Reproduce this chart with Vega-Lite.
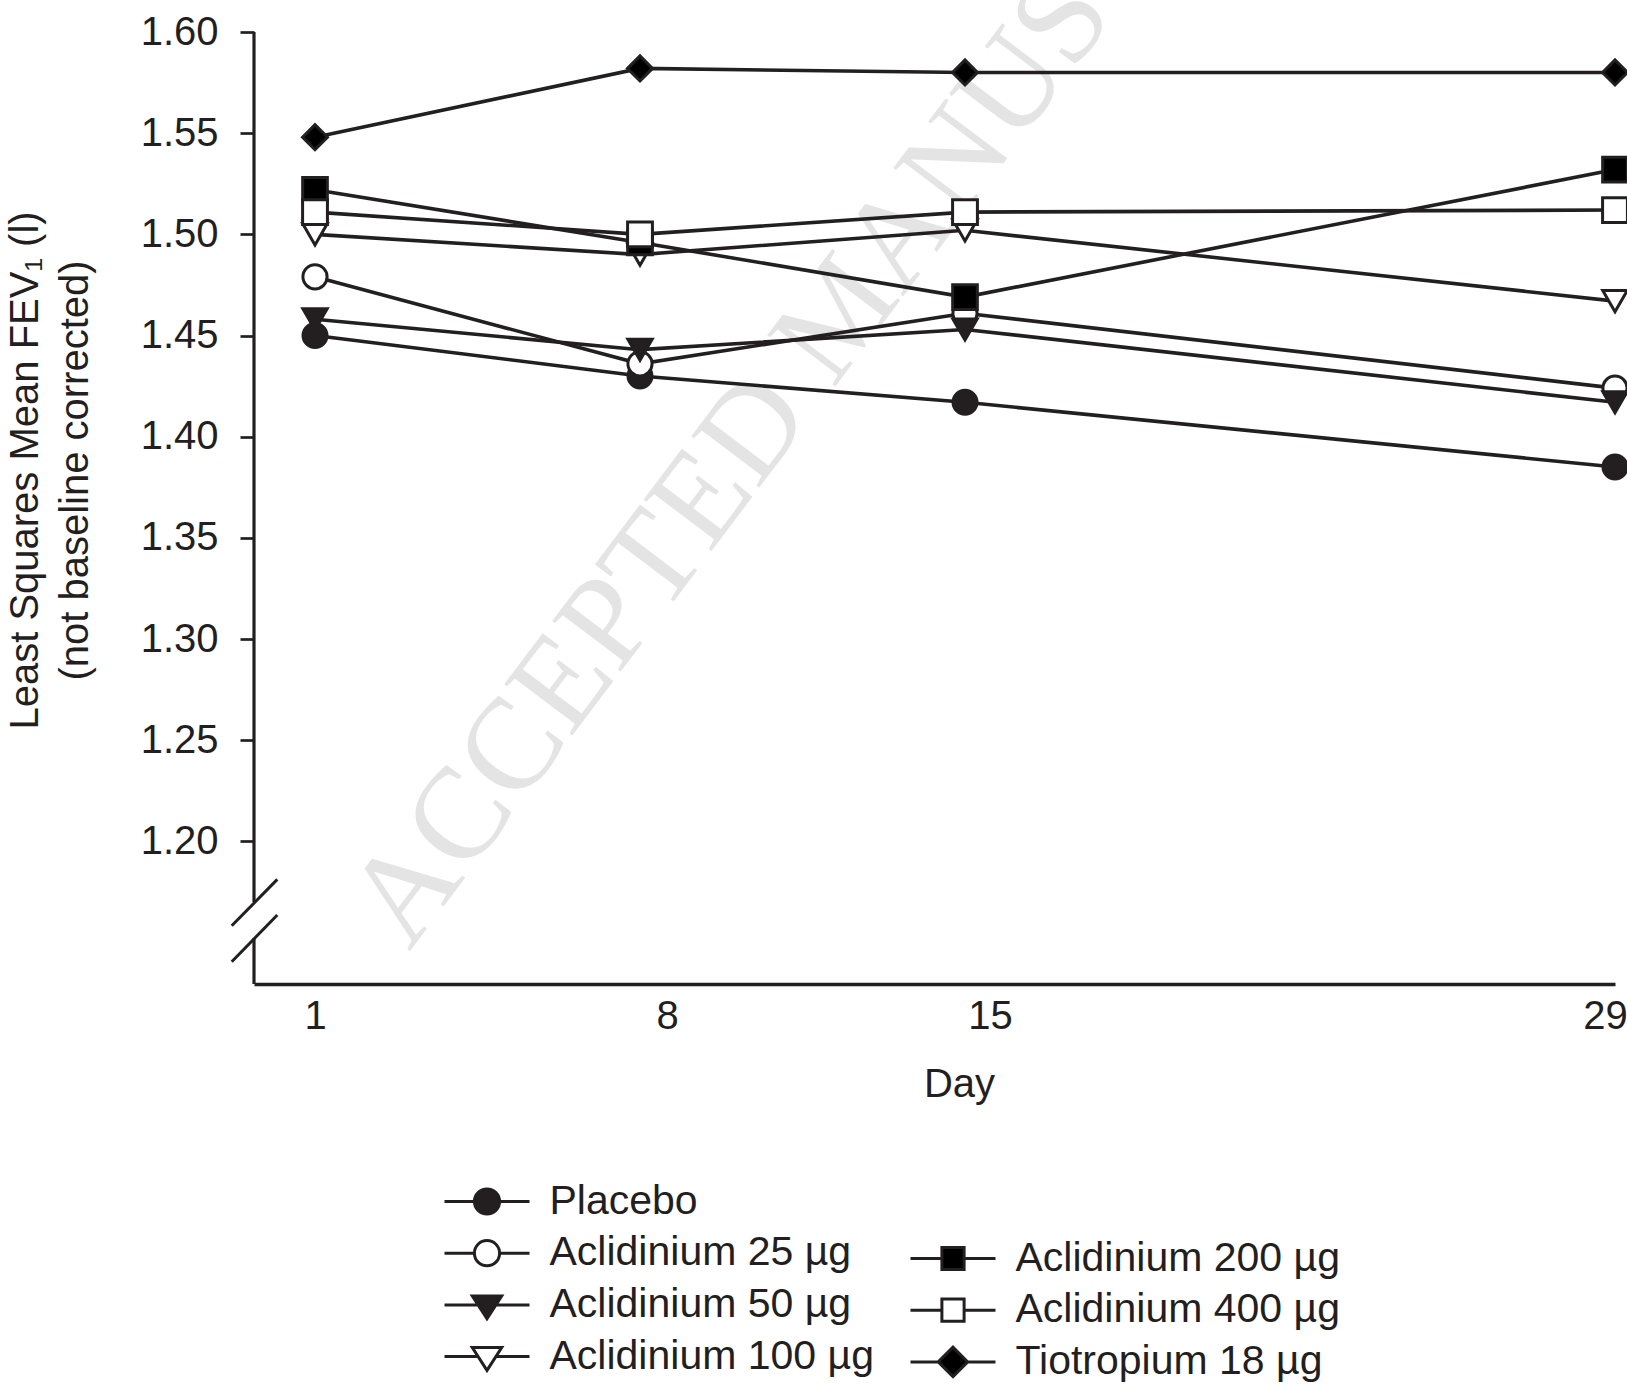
{
  "$schema": "https://vega.github.io/schema/vega-lite/v6.json",
  "width": 1361,
  "height": 952,
  "autosize": {"type": "none"},
  "padding": {"left": 254, "top": 32, "right": 12, "bottom": 402},
  "background": "white",
  "config": {"view": {"stroke": null}, "font": "Liberation Sans"},
  "data": {
    "values": [
      {"series": "Placebo", "day": 1, "fev": 1.450},
      {"series": "Placebo", "day": 8, "fev": 1.430},
      {"series": "Placebo", "day": 15, "fev": 1.417},
      {"series": "Placebo", "day": 29, "fev": 1.385},
      {"series": "Aclidinium 25 µg", "day": 1, "fev": 1.479},
      {"series": "Aclidinium 25 µg", "day": 8, "fev": 1.436},
      {"series": "Aclidinium 25 µg", "day": 15, "fev": 1.461},
      {"series": "Aclidinium 25 µg", "day": 29, "fev": 1.424},
      {"series": "Aclidinium 50 µg", "day": 1, "fev": 1.458},
      {"series": "Aclidinium 50 µg", "day": 8, "fev": 1.443},
      {"series": "Aclidinium 50 µg", "day": 15, "fev": 1.453},
      {"series": "Aclidinium 50 µg", "day": 29, "fev": 1.417},
      {"series": "Aclidinium 100 µg", "day": 1, "fev": 1.500},
      {"series": "Aclidinium 100 µg", "day": 8, "fev": 1.490},
      {"series": "Aclidinium 100 µg", "day": 15, "fev": 1.502},
      {"series": "Aclidinium 100 µg", "day": 29, "fev": 1.467},
      {"series": "Aclidinium 200 µg", "day": 1, "fev": 1.522},
      {"series": "Aclidinium 200 µg", "day": 8, "fev": 1.496},
      {"series": "Aclidinium 200 µg", "day": 15, "fev": 1.469},
      {"series": "Aclidinium 200 µg", "day": 29, "fev": 1.532},
      {"series": "Aclidinium 400 µg", "day": 1, "fev": 1.511},
      {"series": "Aclidinium 400 µg", "day": 8, "fev": 1.500},
      {"series": "Aclidinium 400 µg", "day": 15, "fev": 1.511},
      {"series": "Aclidinium 400 µg", "day": 29, "fev": 1.512},
      {"series": "Tiotropium 18 µg", "day": 1, "fev": 1.548},
      {"series": "Tiotropium 18 µg", "day": 8, "fev": 1.582},
      {"series": "Tiotropium 18 µg", "day": 15, "fev": 1.580},
      {"series": "Tiotropium 18 µg", "day": 29, "fev": 1.580}
    ]
  },
  "layer": [
    {
      "data": {"values": [{}]},
      "mark": {"type": "text", "text": "ACCEPTED MANUSCRIPT", "font": "Liberation Serif", "fontSize": 130, "angle": -53, "align": "left", "baseline": "alphabetic", "color": "#e4e4e4"},
      "encoding": {
        "x": {"datum": 3.03, "type": "quantitative", "scale": {"domain": [-0.314, 29], "nice": false, "zero": false}},
        "y": {"datum": 1.1453, "type": "quantitative", "scale": {"domain": [1.1295, 1.6], "nice": false, "zero": false}}
      }
    },
    {
      "data": {"values": [{}]},
      "mark": {"type": "rule", "stroke": "#231f20", "strokeWidth": 3.2},
      "encoding": {
        "x": {"datum": -0.314, "type": "quantitative"},
        "y": {"datum": 1.6, "type": "quantitative"},
        "y2": {"datum": 1.170}
      }
    },
    {
      "data": {"values": [{}]},
      "mark": {"type": "rule", "stroke": "#231f20", "strokeWidth": 3.2},
      "encoding": {
        "x": {"datum": -0.314, "type": "quantitative"},
        "y": {"datum": 1.1522, "type": "quantitative"},
        "y2": {"datum": 1.1295}
      }
    },
    {
      "data": {"values": [{}]},
      "mark": {"type": "rule", "stroke": "#231f20", "strokeWidth": 3},
      "encoding": {
        "x": {"datum": -0.794, "type": "quantitative"},
        "x2": {"datum": 0.188},
        "y": {"datum": 1.1583, "type": "quantitative"},
        "y2": {"datum": 1.1812}
      }
    },
    {
      "data": {"values": [{}]},
      "mark": {"type": "rule", "stroke": "#231f20", "strokeWidth": 3},
      "encoding": {
        "x": {"datum": -0.794, "type": "quantitative"},
        "x2": {"datum": 0.188},
        "y": {"datum": 1.1405, "type": "quantitative"},
        "y2": {"datum": 1.1636}
      }
    },
    {
      "mark": {"type": "line", "stroke": "#231f20", "strokeWidth": 3.6},
      "encoding": {
        "x": {
          "field": "day", "type": "quantitative",
          "scale": {"domain": [-0.314, 29], "nice": false, "zero": false},
          "axis": {
            "values": [1, 8, 15, 29], "ticks": false, "tickSize": 0, "grid": false,
            "domain": true, "domainColor": "#231f20", "domainWidth": 3.5,
            "labelFont": "Liberation Sans", "labelFontSize": 40, "labelColor": "#231f20",
            "labelBaseline": "alphabetic", "labelPadding": 44, "labelAlign": "center",
            "labelFlush": false, "labelOverlap": false,
            "labelOffset": {"condition": [{"test": "datum.value == 8", "value": 27}, {"test": "datum.value == 15", "value": 25}, {"test": "datum.value == 29", "value": -10}], "value": 0},
            "title": "Day", "titleFont": "Liberation Sans", "titleFontSize": 40, "titleFontWeight": "normal",
            "titleColor": "#231f20", "titleX": 705, "titleY": 112, "titleBaseline": "alphabetic", "titleAlign": "center"
          }
        },
        "y": {
          "field": "fev", "type": "quantitative",
          "scale": {"domain": [1.1295, 1.6], "nice": false, "zero": false},
          "axis": {
            "values": [1.2, 1.25, 1.3, 1.35, 1.4, 1.45, 1.5, 1.55, 1.6], "format": ".2f",
            "grid": false, "domain": false, "ticks": true, "tickSize": 14, "tickWidth": 2.7, "tickColor": "#231f20",
            "labelFont": "Liberation Sans", "labelFontSize": 40, "labelColor": "#231f20", "labelPadding": 22,
            "labelFlush": false, "labelOverlap": false, "labelBaseline": "middle",
            "title": ["Least Squares Mean FEV₁ (l)", "(not baseline corrected)"],
            "titleFont": "Liberation Sans", "titleFontSize": 40, "titleFontWeight": "normal", "titleColor": "#231f20",
            "titleAngle": -90, "titleAlign": "center", "titleBaseline": "alphabetic",
            "titleX": -216.5, "titleY": 438, "titleLineHeight": 50
          }
        },
        "detail": {"field": "series"}
      }
    },
    {
      "mark": {"type": "point", "filled": true, "stroke": "#231f20", "strokeWidth": 3, "opacity": 1, "strokeOpacity": 1},
      "encoding": {
        "x": {"field": "day", "type": "quantitative"},
        "y": {"field": "fev", "type": "quantitative"},
        "fill": {"field": "series", "type": "nominal", "legend": null,
          "scale": {"domain": ["Placebo", "Aclidinium 25 µg", "Aclidinium 50 µg", "Aclidinium 100 µg", "Aclidinium 200 µg", "Aclidinium 400 µg", "Tiotropium 18 µg"],
                    "range": ["#231f20", "white", "#231f20", "white", "black", "white", "black"]}},
        "size": {"field": "series", "type": "nominal", "legend": null,
          "scale": {"domain": ["Placebo", "Aclidinium 25 µg", "Aclidinium 50 µg", "Aclidinium 100 µg", "Aclidinium 200 µg", "Aclidinium 400 µg", "Tiotropium 18 µg"],
                    "range": [576, 625, 841, 841, 441, 441, 1024]}},
        "shape": {"field": "series", "type": "nominal", "legend": null,
          "scale": {"domain": ["Placebo", "Aclidinium 25 µg", "Aclidinium 50 µg", "Aclidinium 100 µg", "Aclidinium 200 µg", "Aclidinium 400 µg", "Tiotropium 18 µg"],
                    "range": ["circle", "circle", "triangle-down", "triangle-down", "square", "square", "diamond"]}}
      }
    },
    {
      "transform": [{"filter": {"field": "series", "oneOf": ["Placebo", "Aclidinium 25 µg", "Aclidinium 50 µg", "Aclidinium 100 µg"]}}],
      "mark": {"type": "point", "filled": false, "color": "#231f20", "strokeWidth": 3, "opacity": 0},
      "encoding": {
        "x": {"field": "day", "type": "quantitative"},
        "y": {"field": "fev", "type": "quantitative"},
        "shape": {"field": "series", "type": "nominal",
          "scale": {"domain": ["Placebo", "Aclidinium 25 µg", "Aclidinium 50 µg", "Aclidinium 100 µg"],
                    "range": ["M-2.833,0H-0.84M0.84,0H2.833M-0.84,0A0.84,0.84,0,1,0,0.84,0A0.84,0.84,0,1,0,-0.84,0Z", "M-2.833,0H-0.84M0.84,0H2.833M-0.84,0A0.84,0.84,0,1,0,0.84,0A0.84,0.84,0,1,0,-0.84,0Z", "M-2.833,0H-0.6M0.6,0H2.833M-0.98,-0.6H0.98L0,0.92Z", "M-2.833,0H-0.6M0.6,0H2.833M-0.98,-0.6H0.98L0,0.92Z"]},
          "legend": {
            "orient": "none", "legendX": 212.5, "legendY": 1149, "title": null, "direction": "vertical",
            "labelFont": "Liberation Sans", "labelFontSize": 41, "labelColor": "#231f20", "labelLimit": 600,
            "labelOffset": 42, "rowPadding": 9.7, "symbolSize": 900, "symbolStrokeWidth": 3, "symbolStrokeColor": "#231f20", "symbolOpacity": 1
          }
        },
        "fill": {"field": "series", "type": "nominal",
          "scale": {"domain": ["Placebo", "Aclidinium 25 µg", "Aclidinium 50 µg", "Aclidinium 100 µg"], "range": ["#231f20", "white", "#231f20", "white"]},
          "legend": {
            "orient": "none", "legendX": 212.5, "legendY": 1149, "title": null, "direction": "vertical",
            "labelFont": "Liberation Sans", "labelFontSize": 41, "labelColor": "#231f20", "labelLimit": 600,
            "labelOffset": 42, "rowPadding": 9.7, "symbolSize": 900, "symbolStrokeWidth": 3, "symbolStrokeColor": "#231f20", "symbolOpacity": 1
          }
        },
        "stroke": {"field": "series", "type": "nominal",
          "scale": {"domain": ["Placebo", "Aclidinium 25 µg", "Aclidinium 50 µg", "Aclidinium 100 µg"], "range": ["#231f20", "#231f20", "#231f20", "#231f20"]},
          "legend": {
            "orient": "none", "legendX": 212.5, "legendY": 1149, "title": null, "direction": "vertical",
            "labelFont": "Liberation Sans", "labelFontSize": 41, "labelColor": "#231f20", "labelLimit": 600,
            "labelOffset": 42, "rowPadding": 9.7, "symbolSize": 900, "symbolStrokeWidth": 3, "symbolStrokeColor": "#231f20", "symbolOpacity": 1
          }
        }
      }
    },
    {
      "transform": [{"filter": {"field": "series", "oneOf": ["Aclidinium 200 µg", "Aclidinium 400 µg", "Tiotropium 18 µg"]}}],
      "mark": {"type": "point", "filled": false, "color": "#231f20", "strokeWidth": 3, "opacity": 0},
      "encoding": {
        "x": {"field": "day", "type": "quantitative"},
        "y": {"field": "fev", "type": "quantitative"},
        "shape": {"field": "series", "type": "nominal",
          "scale": {"domain": ["Aclidinium 200 µg", "Aclidinium 400 µg", "Tiotropium 18 µg"],
                    "range": ["M-2.833,0H-0.74M0.74,0H2.833M-0.74,-0.74H0.74V0.74H-0.74Z", "M-2.833,0H-0.74M0.74,0H2.833M-0.74,-0.74H0.74V0.74H-0.74Z", "M-2.833,0H-0.98M0.98,0H2.833M-0.98,0L0,-0.98L0.98,0L0,0.98Z"]},
          "legend": {
            "orient": "none", "legendX": 678.5, "legendY": 1206, "title": null, "direction": "vertical",
            "labelFont": "Liberation Sans", "labelFontSize": 41, "labelColor": "#231f20", "labelLimit": 600,
            "labelOffset": 42, "rowPadding": 9.7, "symbolSize": 900, "symbolStrokeWidth": 3, "symbolStrokeColor": "#231f20", "symbolOpacity": 1
          }
        },
        "fill": {"field": "series", "type": "nominal",
          "scale": {"domain": ["Aclidinium 200 µg", "Aclidinium 400 µg", "Tiotropium 18 µg"], "range": ["black", "white", "black"]},
          "legend": {
            "orient": "none", "legendX": 678.5, "legendY": 1206, "title": null, "direction": "vertical",
            "labelFont": "Liberation Sans", "labelFontSize": 41, "labelColor": "#231f20", "labelLimit": 600,
            "labelOffset": 42, "rowPadding": 9.7, "symbolSize": 900, "symbolStrokeWidth": 3, "symbolStrokeColor": "#231f20", "symbolOpacity": 1
          }
        },
        "stroke": {"field": "series", "type": "nominal",
          "scale": {"domain": ["Aclidinium 200 µg", "Aclidinium 400 µg", "Tiotropium 18 µg"], "range": ["#231f20", "#231f20", "#231f20"]},
          "legend": {
            "orient": "none", "legendX": 678.5, "legendY": 1206, "title": null, "direction": "vertical",
            "labelFont": "Liberation Sans", "labelFontSize": 41, "labelColor": "#231f20", "labelLimit": 600,
            "labelOffset": 42, "rowPadding": 9.7, "symbolSize": 900, "symbolStrokeWidth": 3, "symbolStrokeColor": "#231f20", "symbolOpacity": 1
          }
        }
      }
    }
  ],
  "resolve": {
    "scale": {"shape": "independent", "fill": "independent", "stroke": "independent"},
    "legend": {"shape": "independent", "fill": "independent", "stroke": "independent"}
  }
}
